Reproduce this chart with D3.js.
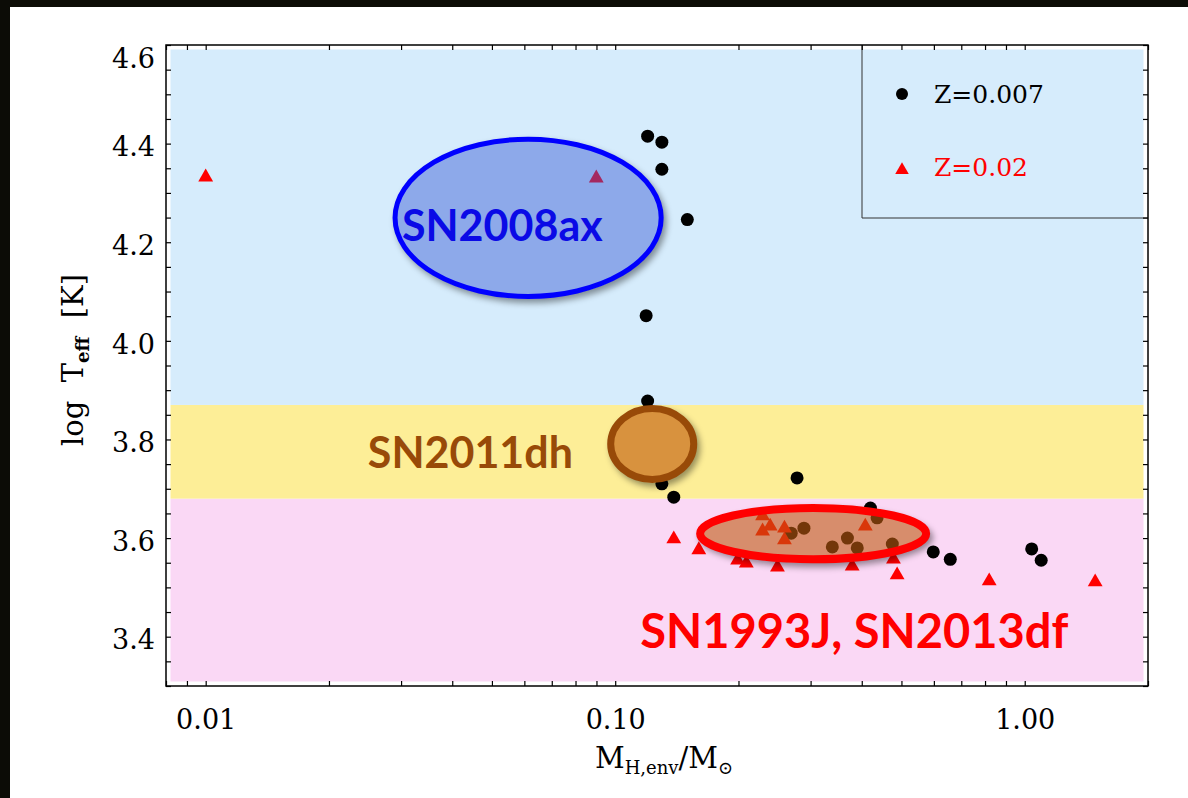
<!DOCTYPE html>
<html>
<head>
<meta charset="utf-8">
<script src="https://cdn.jsdelivr.net/npm/d3@7"></script>
<style>
  body { margin: 0; background: #fff; }
  text { font-family: "DejaVu Serif", serif; fill: #000; }
  .sn-label { font-family: Lato, "Open Sans", sans-serif; font-weight: bold; }
</style>
</head>
<body>
<div id="chart"></div>
<script>
// Z = 0.007 models (black dots)
var massZ007 = [0.120, 0.130, 0.130, 0.150, 0.119, 0.120, 0.130, 0.139, 0.278, 0.420, 0.436,
                0.269, 0.289, 0.339, 0.369, 0.390, 0.475, 0.598, 0.658, 1.040, 1.097];
var logTZ007 = [4.415, 4.403, 4.348, 4.246, 4.051, 3.878, 3.710, 3.683, 3.722, 3.661, 3.641,
                3.610, 3.620, 3.582, 3.600, 3.580, 3.588, 3.572, 3.557, 3.578, 3.555];

// Z = 0.02 models (red triangles)
var massZ02 = [0.0100, 0.0899, 0.139, 0.160, 0.199, 0.209, 0.249, 0.379, 0.229,
               0.229, 0.239, 0.259, 0.259, 0.408, 0.478, 0.488, 0.819, 1.486];
var logTZ02 = [4.332, 4.330, 3.598, 3.576, 3.555, 3.549, 3.541, 3.543, 3.645,
               3.614, 3.624, 3.620, 3.596, 3.624, 3.557, 3.525, 3.513, 3.511];

// temperature bands (log Teff edges)
var bandEdges = [3.3, 3.68, 3.87, 4.6];

// supernova progenitor regions
var snNames = ["SN2008ax", "SN2011dh", "SN1993J, SN2013df"];
var snMassRange = [[0.029, 0.1295], [0.0975, 0.1555], [0.1612, 0.5745]];
var snTempRange = [[4.090, 4.409], [3.719, 3.863], [3.557, 3.661]];
var snLabelMass = [0.053, 0.0443, 0.3835];
var snLabelTemp = [4.234, 3.773, 3.411];

var xMajor = [0.01, 0.1, 1];
var yMajor = [3.4, 3.6, 3.8, 4.0, 4.2, 4.4, 4.6];
var legendLabels = ["Z=0.007", "Z=0.02"];

// styles
var bandColors = ["#fad8f5", "#fdee97", "#d6ecfc"];
var snStroke = ["#0000ff", "#984a08", "#ff0000"];
var snStrokeWidth = [5, 7, 8];
var snFill = ["rgb(54,89,212)", "#d8923e", "rgb(192,92,17)"];
var snFillOpacity = [0.45, 1, 0.6];
var snTextColor = ["#0a0ae6", "#984a08", "#ff0000"];
var snFontSize = [43, 43, 47];

var svgWidth = 1188;
var svgHeight = 798;
var margin = { top: 45, left: 166, right: 40, bottom: 112 };
var width = 1148 - margin.left;
var height = 686 - margin.top;

var svg = d3.select("#chart")
  .append("svg")
  .attr("width", svgWidth)
  .attr("height", svgHeight);

svg.append("rect").attr("width", svgWidth).attr("height", svgHeight).attr("fill", "#fff");
// black page edges
svg.append("rect").attr("width", 10).attr("height", svgHeight).attr("fill", "#0c0c06");
svg.append("rect").attr("width", svgWidth).attr("height", 7).attr("fill", "#0c0c06");

var defs = svg.append("defs");
defs.append("filter").attr("id", "blur")
  .attr("x", "-30%").attr("y", "-40%").attr("width", "160%").attr("height", "180%")
  .append("feGaussianBlur").attr("stdDeviation", 3);

var chartGroup = svg.append("g")
  .attr("transform", `translate(${margin.left}, ${margin.top})`);

var xScale = d3.scaleLog().domain([0.008, 2.0]).range([0, width]);
var yScale = d3.scaleLinear().domain([3.3, 4.6]).range([height, 0]);

// background bands (inset a little from the frame)
var inset = 4.5;
chartGroup.selectAll(".band")
  .data(bandColors)
  .enter()
  .append("rect")
  .attr("x", inset)
  .attr("width", width - 2 * inset)
  .attr("y", (d, i) => Math.max(yScale(bandEdges[i + 1]), inset))
  .attr("height", (d, i) => Math.min(yScale(bandEdges[i]), height - inset) - Math.max(yScale(bandEdges[i + 1]), inset))
  .attr("fill", d => d);

// model points
chartGroup.selectAll(".dot")
  .data(massZ007)
  .enter()
  .append("circle")
  .attr("cx", d => xScale(d))
  .attr("cy", (d, i) => yScale(logTZ007[i]))
  .attr("r", 6.5)
  .attr("fill", "#000");

var tri = d3.symbol().type(d3.symbolTriangle).size(95);
chartGroup.selectAll(".tri")
  .data(massZ02)
  .enter()
  .append("path")
  .attr("d", tri)
  .attr("transform", (d, i) => `translate(${xScale(d)}, ${yScale(logTZ02[i])})`)
  .attr("fill", "#ff0000");

// supernova ellipses, with a soft shadow kept outside the ellipse
snNames.forEach(function(name, i) {
  var x0 = xScale(snMassRange[i][0]), x1 = xScale(snMassRange[i][1]);
  var y0 = yScale(snTempRange[i][0]), y1 = yScale(snTempRange[i][1]);
  var cx = (x0 + x1) / 2, cy = (y0 + y1) / 2;
  var rx = (x1 - x0) / 2, ry = (y0 - y1) / 2;
  var sw = snStrokeWidth[i];

  // mask lives in the chartGroup's user space
  var mask = defs.append("mask").attr("id", "m" + i)
    .attr("maskUnits", "userSpaceOnUse")
    .attr("x", -200).attr("y", -200).attr("width", 1400).attr("height", 1000);
  mask.append("rect").attr("x", -200).attr("y", -200).attr("width", 1400).attr("height", 1000).attr("fill", "#fff");
  mask.append("ellipse")
    .attr("cx", cx).attr("cy", cy)
    .attr("rx", rx + sw / 2 - 0.5).attr("ry", ry + sw / 2 - 0.5).attr("fill", "#000");

  chartGroup.append("g").attr("mask", `url(#m${i})`)
    .append("ellipse")
    .attr("cx", cx + 3).attr("cy", cy + 4)
    .attr("rx", rx + sw / 2).attr("ry", ry + sw / 2)
    .attr("fill", "#000").attr("fill-opacity", 0.4)
    .attr("filter", "url(#blur)");

  chartGroup.append("ellipse")
    .attr("cx", cx)
    .attr("cy", cy)
    .attr("rx", rx)
    .attr("ry", ry)
    .attr("fill", snFill[i])
    .attr("fill-opacity", snFillOpacity[i])
    .attr("stroke", snStroke[i])
    .attr("stroke-width", sw);
});

chartGroup.selectAll(".sn-label")
  .data(snNames)
  .enter()
  .append("text")
  .attr("class", "sn-label")
  .attr("x", (d, i) => xScale(snLabelMass[i]))
  .attr("y", (d, i) => yScale(snLabelTemp[i]))
  .attr("dy", "0.36em")
  .attr("text-anchor", "middle")
  .style("font-size", (d, i) => snFontSize[i] + "px")
  .style("fill", (d, i) => snTextColor[i])
  .text(d => d);

// legend
var legend = chartGroup.append("g");
legend.append("path")
  .attr("d", `M${862 - margin.left},0 V${218 - margin.top} H${width}`)
  .attr("fill", "none")
  .attr("stroke", "#333")
  .attr("stroke-width", 1);
legend.append("circle")
  .attr("cx", 902 - margin.left).attr("cy", 94 - margin.top)
  .attr("r", 6).attr("fill", "#000");
legend.append("path")
  .attr("d", d3.symbol().type(d3.symbolTriangle).size(80))
  .attr("transform", `translate(${902 - margin.left}, ${170 - margin.top})`)
  .attr("fill", "#ff0000");
legend.selectAll(".leg-text")
  .data(legendLabels)
  .enter()
  .append("text")
  .attr("x", 934 - margin.left)
  .attr("y", (d, i) => (i === 0 ? 103 : 176) - margin.top)
  .style("font-size", "25px")
  .style("fill", (d, i) => i === 0 ? "#000" : "#ff0000")
  .text(d => d);

// axes
var isMajorX = d => xMajor.some(m => Math.abs(Math.log10(d) - Math.log10(m)) < 1e-6);
var xTicks = xScale.ticks();
var yTicks = yScale.ticks(26);

var xAxis = d3.axisBottom(xScale)
  .tickValues(xTicks)
  .tickSizeInner(-5).tickSizeOuter(0).tickPadding(24)
  .tickFormat(d => isMajorX(d) ? d3.format(".2f")(d) : "");
var yAxis = d3.axisLeft(yScale)
  .tickValues(yTicks)
  .tickSizeInner(-5).tickSizeOuter(0).tickPadding(11)
  .tickFormat(d => yMajor.some(m => Math.abs(m - d) < 1e-6) ? d3.format(".1f")(d) : "");

var gx = chartGroup.append("g")
  .attr("transform", `translate(0, ${height})`)
  .call(xAxis);
var gy = chartGroup.append("g").call(yAxis);
chartGroup.append("g")
  .call(d3.axisTop(xScale).tickValues(xTicks).tickSizeInner(-5).tickSizeOuter(0).tickFormat(""));
chartGroup.append("g")
  .attr("transform", `translate(${width}, 0)`)
  .call(d3.axisRight(yScale).tickValues(yTicks).tickSizeInner(-5).tickSizeOuter(0).tickFormat(""));

chartGroup.selectAll(".domain").remove();
chartGroup.selectAll(".tick line").attr("stroke", "#000").attr("stroke-width", 1.2);
gx.selectAll("text").style("font-size", "27px").attr("font-family", null);
gy.selectAll("text").style("font-size", "27px").attr("font-family", null).attr("dy", "0.45em");
// top label sits a little lower, as in the figure
gy.selectAll(".tick").filter(d => Math.abs(d - 4.6) < 1e-6).select("text").attr("dy", "0.85em");

// frame
chartGroup.append("rect")
  .attr("width", width)
  .attr("height", height)
  .attr("fill", "none")
  .attr("stroke", "#000")
  .attr("stroke-width", 1.5);

// axis titles
var xTitle = svg.append("text")
  .attr("x", 664)
  .attr("y", 768)
  .attr("text-anchor", "middle")
  .style("font-size", "29px");
xTitle.append("tspan").text("M");
xTitle.append("tspan").attr("dy", 6).style("font-size", "18px").text("H,env");
xTitle.append("tspan").attr("dy", -6).text("/M");
xTitle.append("tspan").attr("dy", 6).style("font-size", "18px").text("\u2299");

var yTitle = svg.append("text")
  .attr("transform", "translate(83, 360) rotate(-90)")
  .attr("text-anchor", "middle")
  .style("font-size", "29px")
  .style("white-space", "pre");
yTitle.append("tspan").text("log  T");
yTitle.append("tspan").attr("dy", 6).style("font-size", "18px").style("font-weight", "bold").text("eff");
yTitle.append("tspan").attr("dy", -6).text("  [K]");
</script>
</body>
</html>
